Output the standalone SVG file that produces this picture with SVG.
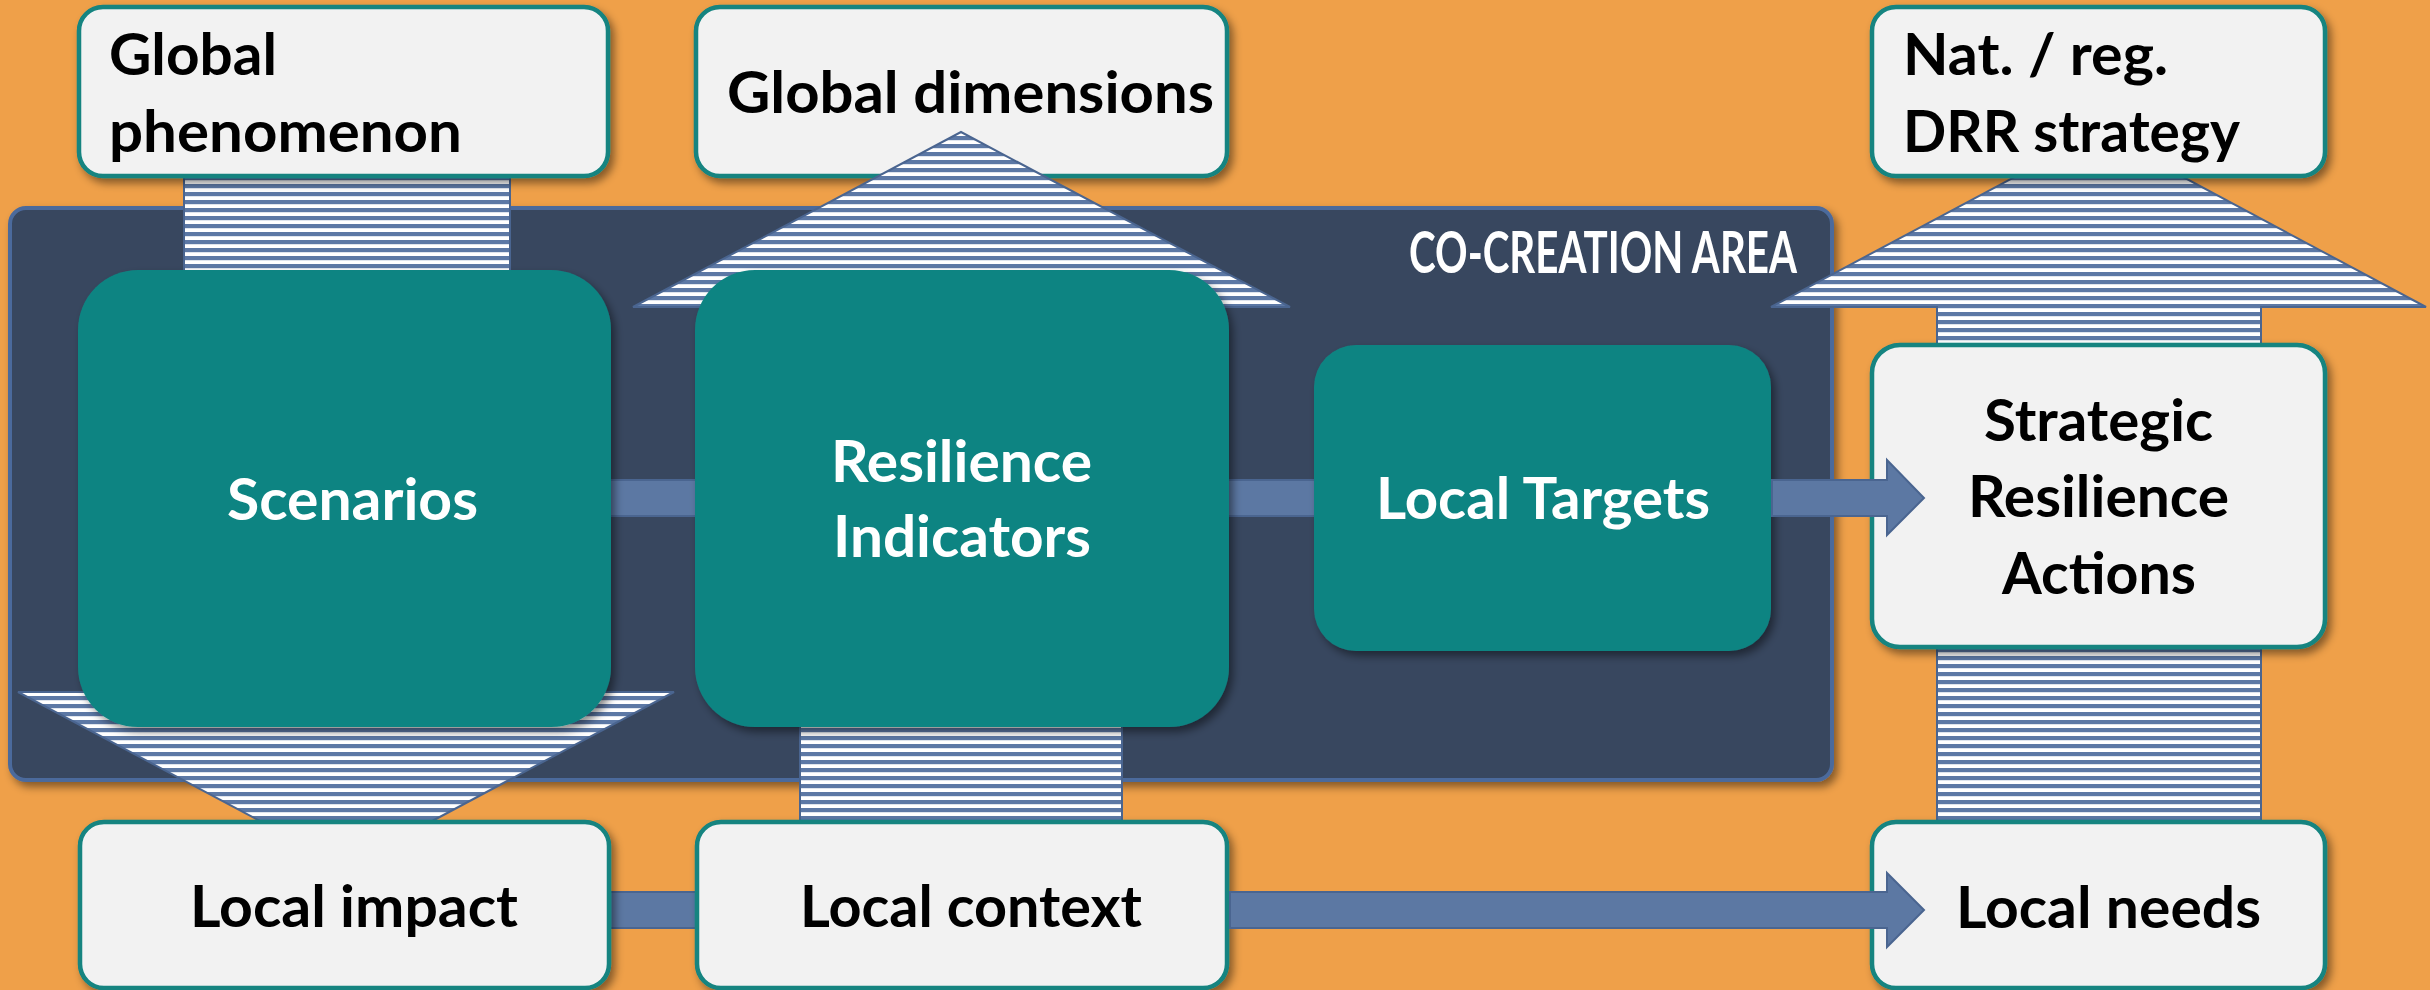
<svg xmlns="http://www.w3.org/2000/svg" width="2430" height="990" viewBox="0 0 2430 990">
<style>
.t{font-family:Lato,"Open Sans","Liberation Sans",sans-serif;font-weight:700;font-size:58px}
.tk{fill:#000}
.tw{fill:#fff}
.light{fill:#f2f2f2;stroke:#128480;stroke-width:4.5}
.teal{fill:#108482}
.stripe{fill:url(#stripes);stroke:#4a6590;stroke-width:2}
.shaft{fill:#5c78a3;stroke:#4a6590;stroke-width:2}
</style>
<defs>
<pattern id="stripes" patternUnits="userSpaceOnUse" width="8" height="8">
<rect width="8" height="8" fill="#ffffff"/>
<rect width="8" height="4.2" fill="#5c78a5"/>
</pattern>
<filter id="sh" x="-10%" y="-10%" width="130%" height="130%">
<feDropShadow dx="4" dy="5" stdDeviation="4" flood-color="#000" flood-opacity="0.45"/>
</filter>
</defs>
<rect width="2430" height="990" fill="#efa049"/>

<g id="co-creation-area">
<rect x="10" y="208" width="1822" height="572" rx="16" fill="#37475f" stroke="#4c6a9c" stroke-width="4" filter="url(#sh)"/>
<text class="t tw" x="1409" y="273" font-size="40" textLength="388" lengthAdjust="spacingAndGlyphs">CO-CREATION AREA</text>
</g>

<g id="node-global-dimensions">
<rect class="light" x="696" y="7" width="531" height="169" rx="24" filter="url(#sh)"/>
<text class="t tk" x="727" y="113" textLength="487" lengthAdjust="spacingAndGlyphs">Global dimensions</text>
</g>

<g id="connectors">
<rect class="shaft" x="600" y="480" width="100" height="36"/>
<rect class="shaft" x="1222" y="480" width="98" height="36"/>
<rect class="shaft" x="600" y="892" width="104" height="36"/>
<path class="stripe" d="M184,176 L510,176 L510,692 L674,692 L346,867 L18,692 L184,692 Z"/>
<path class="stripe" d="M800,822 L1122,822 L1122,307 L1290,307 L961,132 L633,307 L800,307 Z"/>
<path class="stripe" d="M1937,822 L2261,822 L2261,307 L2426,307 L2099,132 L1771,307 L1937,307 Z"/>
</g>

<g id="node-global-phenomenon">
<rect class="light" x="79" y="7" width="529" height="169" rx="24" filter="url(#sh)"/>
<text class="t tk" x="109" y="75" textLength="168" lengthAdjust="spacingAndGlyphs">Global</text>
<text class="t tk" x="109" y="152" textLength="353" lengthAdjust="spacingAndGlyphs">phenomenon</text>
</g>

<g id="node-nat-reg-drr-strategy">
<rect class="light" x="1872" y="7" width="453" height="169" rx="24" filter="url(#sh)"/>
<text class="t tk" x="1903" y="75" textLength="265" lengthAdjust="spacingAndGlyphs">Nat. / reg.</text>
<text class="t tk" x="1903" y="152" textLength="337" lengthAdjust="spacingAndGlyphs">DRR strategy</text>
</g>

<g id="node-scenarios">
<rect class="teal" x="78" y="270" width="533" height="457" rx="60" filter="url(#sh)"/>
<text class="t tw" x="227" y="520" textLength="251" lengthAdjust="spacingAndGlyphs">Scenarios</text>
</g>

<g id="node-resilience-indicators">
<rect class="teal" x="695" y="270" width="534" height="457" rx="60" filter="url(#sh)"/>
<text class="t tw" x="831" y="482" textLength="261" lengthAdjust="spacingAndGlyphs">Resilience</text>
<text class="t tw" x="833" y="557" textLength="258" lengthAdjust="spacingAndGlyphs">Indicators</text>
</g>

<g id="node-local-targets">
<rect class="teal" x="1314" y="345" width="457" height="306" rx="42" filter="url(#sh)"/>
<text class="t tw" x="1376" y="519" textLength="334" lengthAdjust="spacingAndGlyphs">Local Targets</text>
</g>

<g id="node-strategic-resilience-actions">
<rect class="light" x="1872" y="345" width="453" height="302" rx="28" filter="url(#sh)"/>
<text class="t tk" x="1984" y="441" textLength="229" lengthAdjust="spacingAndGlyphs">Strategic</text>
<text class="t tk" x="1968" y="517" textLength="261" lengthAdjust="spacingAndGlyphs">Resilience</text>
<text class="t tk" x="2002" y="594" textLength="194" lengthAdjust="spacingAndGlyphs">Actions</text>
</g>

<g id="node-local-impact">
<rect class="light" x="80" y="822" width="529" height="166" rx="24" filter="url(#sh)"/>
<text class="t tk" x="190" y="927" textLength="328" lengthAdjust="spacingAndGlyphs">Local impact</text>
</g>

<g id="node-local-context">
<rect class="light" x="697" y="822" width="530" height="166" rx="24" filter="url(#sh)"/>
<text class="t tk" x="800" y="927" textLength="342" lengthAdjust="spacingAndGlyphs">Local context</text>
</g>

<g id="node-local-needs">
<rect class="light" x="1872" y="822" width="453" height="166" rx="24" filter="url(#sh)"/>
<text class="t tk" x="1956" y="928" textLength="305" lengthAdjust="spacingAndGlyphs">Local needs</text>
</g>

<g id="connectors-front">
<path class="shaft" d="M1772,480 L1887,480 L1887,460 L1924,498 L1887,535 L1887,516 L1772,516 Z"/>
<path class="shaft" d="M1230,892 L1887,892 L1887,873 L1924,910 L1887,947 L1887,928 L1230,928 Z"/>
</g>
</svg>
